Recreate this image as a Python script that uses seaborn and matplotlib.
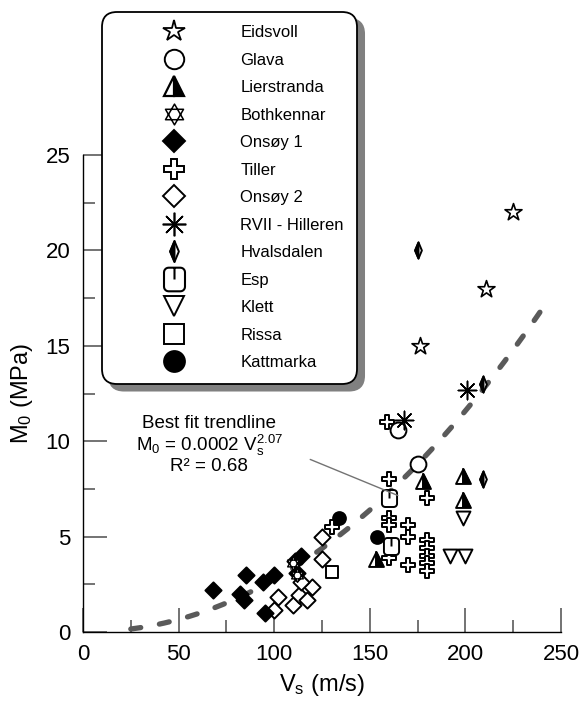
import matplotlib
matplotlib.use('Agg')
import matplotlib.pyplot as plt
import numpy as np
import pandas as pd
import seaborn as sns
from matplotlib.lines import Line2D
from matplotlib.markers import MarkerStyle
from matplotlib.path import Path
from matplotlib.patches import Shadow
from matplotlib.ticker import MultipleLocator

# values: Vs (m/s) and M0 (MPa) per site
eidsvoll_vs = [225, 211, 176]
eidsvoll_m0 = [22.0, 18.0, 15.0]
glava_vs = [165, 175]
glava_m0 = [10.6, 8.8]
lierstranda_vs = [178, 199, 199, 153]
lierstranda_m0 = [7.9, 8.2, 6.9, 3.8]
bothkennar_vs = [110, 112]
bothkennar_m0 = [3.6, 3.0]
onsoy1_vs = [68, 85, 82, 84, 94, 100, 95, 111, 114, 112]
onsoy1_m0 = [2.2, 3.0, 2.0, 1.7, 2.6, 3.0, 1.0, 3.7, 4.0, 3.1]
tiller_vs = [159, 160, 180, 160, 160, 170, 170, 160, 170, 180, 180, 180, 180, 180, 130]
tiller_m0 = [11.0, 8.0, 7.0, 6.0, 5.6, 5.6, 5.0, 3.9, 3.5, 4.8, 4.4, 4.0, 3.6, 3.2, 5.5]
onsoy2_vs = [125, 125, 102, 100, 110, 113, 117, 120, 114]
onsoy2_m0 = [5.0, 3.8, 1.85, 1.15, 1.4, 1.95, 1.7, 2.35, 2.6]
rvii_vs = [168, 201]
rvii_m0 = [11.1, 12.7]
hvalsdalen_vs = [175, 209, 209]
hvalsdalen_m0 = [20.0, 13.0, 8.0]
esp_vs = [160, 161]
esp_m0 = [7.0, 4.5]
klett_vs = [199, 192, 200]
klett_m0 = [6.0, 4.0, 4.0]
rissa_vs = [130]
rissa_m0 = [3.15]
kattmarka_vs = [134, 154]
kattmarka_m0 = [6.0, 5.0]

# trendline given on the chart: M0 = 0.0002 Vs^2.07
trend_coef = 0.0002
trend_exp = 2.07
trend_vs_min, trend_vs_max = 25, 242

sns.set_style('ticks')
plt.rcParams['font.family'] = ['Liberation Sans', 'DejaVu Sans']
plt.rcParams['mathtext.fontset'] = 'custom'
plt.rcParams['mathtext.rm'] = 'Liberation Sans'
plt.rcParams['mathtext.it'] = 'Liberation Sans'
for key in ['text.color', 'axes.labelcolor', 'xtick.labelcolor', 'ytick.labelcolor']:
    plt.rcParams[key] = 'black'

# custom marker shapes
hexagram = Path(
    [(0, 1), (-0.866, -0.5), (0.866, -0.5), (0, 1),
     (0, -1), (0.866, 0.5), (-0.866, 0.5), (0, -1)],
    [Path.MOVETO, Path.LINETO, Path.LINETO, Path.CLOSEPOLY] * 2)

t = np.linspace(0, np.pi / 2, 6)
r = 0.35
corners = [(0.8 - r, 0.9 - r, 0), (-0.8 + r, 0.9 - r, np.pi / 2),
           (-0.8 + r, -0.9 + r, np.pi), (0.8 - r, -0.9 + r, 1.5 * np.pi)]
outline = []
for cx, cy, a0 in corners:
    outline += [(cx + r * np.cos(a0 + a), cy + r * np.sin(a0 + a)) for a in t]
esp_verts = outline + [outline[0], (0, 0.9), (0, 0.0)]
esp_codes = [Path.MOVETO] + [Path.LINETO] * (len(outline) - 1) + [Path.CLOSEPOLY, Path.MOVETO, Path.LINETO]
esp_marker = Path(esp_verts, esp_codes)

thin_diamond = Path([(0, 1), (-0.42, 0), (0, -1), (0.42, 0), (0, 1)],
                    [Path.MOVETO, Path.LINETO, Path.LINETO, Path.LINETO, Path.CLOSEPOLY])
thin_half = Path([(0, 1), (-0.42, 0), (0, -1), (0, 1)],
                 [Path.MOVETO, Path.LINETO, Path.LINETO, Path.CLOSEPOLY])

fig = plt.figure(figsize=(5.82, 7.02), dpi=100)
ax = fig.add_axes([83 / 582, 1 - 632 / 702, 478 / 582, 477 / 702])

trend_vs = np.linspace(trend_vs_min, trend_vs_max, 200)
trend_m0 = trend_coef * trend_vs ** trend_exp
ax.plot(trend_vs, trend_m0, color='#5a5a5a', lw=3.8,
        linestyle=(0, (1.9, 3.6)), dash_capstyle='round', zorder=2)

lw = 1.4


def pts(vs, m0, marker, face, size, **kw):
    sns.scatterplot(x=vs, y=m0, marker=marker, s=size, color=face,
                    edgecolor='black', linewidth=kw.pop('lw', lw), ax=ax,
                    zorder=3, legend=False, **kw)


pts(onsoy2_vs, onsoy2_m0, 'D', 'white', 68)
pts(onsoy1_vs, onsoy1_m0, 'D', 'black', 68)
pts(bothkennar_vs, bothkennar_m0, hexagram, 'white', 95, lw=1.0)
pts(rissa_vs, rissa_m0, 's', 'white', 80)
pts(kattmarka_vs, kattmarka_m0, 'o', 'black', 85)
pts(tiller_vs, tiller_m0, 'P', 'white', 115)
pts(esp_vs, esp_m0, esp_marker, 'white', 150)
pts(glava_vs, glava_m0, 'o', 'white', 130)
pts(lierstranda_vs, lierstranda_m0, '^', 'white', 115)
pts(lierstranda_vs, lierstranda_m0, MarkerStyle('^', fillstyle='right'), 'black', 115)
pts(klett_vs, klett_m0, 'v', 'white', 100)
sns.scatterplot(x=rvii_vs, y=rvii_m0, marker=(8, 2, 0), s=175, color='black',
                linewidth=1.1, ax=ax, zorder=3, legend=False)
pts(hvalsdalen_vs, hvalsdalen_m0, thin_diamond, 'white', 135)
pts(hvalsdalen_vs, hvalsdalen_m0, thin_half, 'black', 135)
pts(eidsvoll_vs, eidsvoll_m0, '*', 'white', 165, lw=1.2)

ax.set_xlim(0, 250)
ax.set_ylim(0, 25)
ax.xaxis.set_major_locator(MultipleLocator(50))
ax.xaxis.set_minor_locator(MultipleLocator(25))
ax.yaxis.set_major_locator(MultipleLocator(5))
ax.yaxis.set_minor_locator(MultipleLocator(2.5))
ax.tick_params(which='major', direction='in', length=17, width=1.1, color='0.3',
               labelsize=16, pad=9)
ax.tick_params(which='minor', direction='in', length=8.5, width=1.1, color='0.3')
for side in ['top', 'right']:
    ax.spines[side].set_visible(False)
for side in ['left', 'bottom']:
    ax.spines[side].set_linewidth(1.0)
    ax.spines[side].set_color('black')

ax.set_xlabel(r'V$_\mathregular{s}$ (m/s)', fontsize=17, labelpad=5)
ax.set_ylabel(r'M$_\mathregular{0}$ (MPa)', fontsize=17, labelpad=8)

# trendline annotation
ax.text(66, 10.95, 'Best fit trendline', fontsize=13.5, ha='center', va='center')
ax.text(66, 9.8, r'M$_\mathregular{0}$ = 0.0002 V$_\mathregular{s}^\mathregular{2.07}$',
        fontsize=13.5, ha='center', va='center')
ax.text(66, 8.7, 'R² = 0.68', fontsize=13.5, ha='center', va='center')
ax.annotate('', xy=(166, 7.1), xytext=(117.5, 9.1),
            arrowprops=dict(arrowstyle='-', color='0.45', lw=1.0))

# legend
handles = [
    Line2D([], [], ls='none', marker='*', markersize=16, mfc='white', mec='black', mew=1.3),
    Line2D([], [], ls='none', marker='o', markersize=14, mfc='white', mec='black', mew=1.4),
    Line2D([], [], ls='none', marker='^', markersize=14, mfc='black', mfcalt='white',
           fillstyle='right', mec='black', mew=1.6),
    Line2D([], [], ls='none', marker=hexagram, markersize=15, mfc='white', mec='black', mew=1.1),
    Line2D([], [], ls='none', marker='D', markersize=11, mfc='black', mec='black', mew=1.4),
    Line2D([], [], ls='none', marker='P', markersize=14, mfc='white', mec='black', mew=1.4),
    Line2D([], [], ls='none', marker='D', markersize=11, mfc='white', mec='black', mew=1.4),
    Line2D([], [], ls='none', marker=(8, 2, 0), markersize=17, mfc='black', mec='black', mew=1.2),
    Line2D([], [], ls='none', marker=thin_diamond, markersize=15, mfc='white', mec='black', mew=1.4),
    Line2D([], [], ls='none', marker=esp_marker, markersize=17, mfc='white', mec='black', mew=1.5),
    Line2D([], [], ls='none', marker='v', markersize=14, mfc='white', mec='black', mew=1.4),
    Line2D([], [], ls='none', marker='s', markersize=14, mfc='white', mec='black', mew=1.4),
    Line2D([], [], ls='none', marker='o', markersize=15, mfc='black', mec='black', mew=1.4),
]
labels = ['Eidsvoll', 'Glava', 'Lierstranda', 'Bothkennar', 'Onsøy 1', 'Tiller',
          'Onsøy 2', 'RVII - Hilleren', 'Hvalsdalen', 'Esp', 'Klett', 'Rissa', 'Kattmarka']

leg = fig.legend(handles, labels, loc='upper left', bbox_to_anchor=(102 / 582, 1 - 12 / 702),
                 fontsize=12, frameon=True, fancybox=True, borderpad=0.8, labelspacing=0.75,
                 handlelength=7.0, handletextpad=0.5, borderaxespad=0, numpoints=1)
frame = leg.get_frame()
frame.set_edgecolor('black')
frame.set_linewidth(1.3)
frame.set_facecolor('white')
frame.set_alpha(1)
frame.set_boxstyle('round', pad=0, rounding_size=0.9)

fig.canvas.draw()

shadow = Shadow(leg.legendPatch, 5, -5, facecolor='0.5', edgecolor='0.5', alpha=1, zorder=4.9)
fig.add_artist(shadow)
shadow.set_transform(leg.legendPatch.get_transform())

# half-filled thin diamond in the legend: overlay the black left half
hval_handle = leg.legend_handles[8]
xd = np.mean(hval_handle.get_xdata())
yd = np.mean(hval_handle.get_ydata())
disp = hval_handle.get_transform().transform((xd, yd))
fx, fy = fig.transFigure.inverted().transform(disp)
hval_overlay = Line2D([fx], [fy], ls='none', marker=thin_half, markersize=15, mfc='black',
                      mec='black', mew=1.4, transform=fig.transFigure, zorder=6)
fig.add_artist(hval_overlay)

fig.savefig('out.png', dpi=100)
